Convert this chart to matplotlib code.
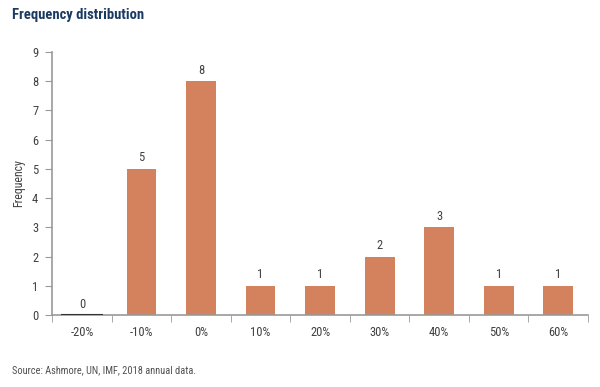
import numpy as np
import matplotlib.pyplot as plt

categories = ['-20%', '-10%', '0%', '10%', '20%', '30%', '40%', '50%', '60%']
counts = [0, 5, 8, 1, 1, 2, 3, 1, 1]

bar_col = '#D3825D'
axis_col = '#999999'
text_col = '#404040'
plt.rcParams['font.family'] = ['Roboto Condensed', 'Liberation Sans Narrow', 'Roboto', 'DejaVu Sans']

fig = plt.figure(figsize=(6, 3.87), dpi=100)
ax = fig.add_axes([0.087, 0.186, 0.893, 0.68])

x = np.arange(len(categories))
ax.bar(x, counts, width=0.5, color=bar_col)
# zero-height bars show up as a dark line on the baseline
zeros = [i for i, c in enumerate(counts) if c == 0]
ax.hlines([0] * len(zeros), x[zeros] - 0.35, x[zeros] + 0.35, color='#333333', lw=1.5, zorder=3)

for xi, c in zip(x, counts):
    ax.text(xi, c + 0.15, str(c), ha='center', va='bottom', fontsize=9, color=text_col)

ax.set_xlim(-0.5, len(categories) - 0.5)
ax.set_ylim(0, 9)
ax.set_yticks(range(10))
ax.set_xticks(x)
ax.set_xticklabels(categories)
ax.set_xticks(np.arange(-0.5, len(categories) + 0.5, 1), minor=True)
ax.tick_params(axis='x', which='major', length=0, pad=8, labelsize=9, labelcolor=text_col)
ax.tick_params(axis='x', which='minor', length=5, color=axis_col, direction='out')
ax.tick_params(axis='y', length=5, color=axis_col, labelsize=9, labelcolor=text_col, pad=5)

for s in ['top', 'right']:
    ax.spines[s].set_visible(False)
for s in ['left', 'bottom']:
    ax.spines[s].set_color(axis_col)
    ax.spines[s].set_linewidth(1.2)

ax.set_ylabel('Frequency', fontsize=8.5, color=text_col, labelpad=5)

fig.text(0.02, 0.962, 'Frequency distribution', fontsize=10.5, fontweight='bold',
         color='#1B3A62', va='center')
fig.text(0.02, 0.044, 'Source: Ashmore, UN, IMF, 2018 annual data.', fontsize=7.5,
         color='#505050', va='center')

fig.savefig('out.png', dpi=100)
